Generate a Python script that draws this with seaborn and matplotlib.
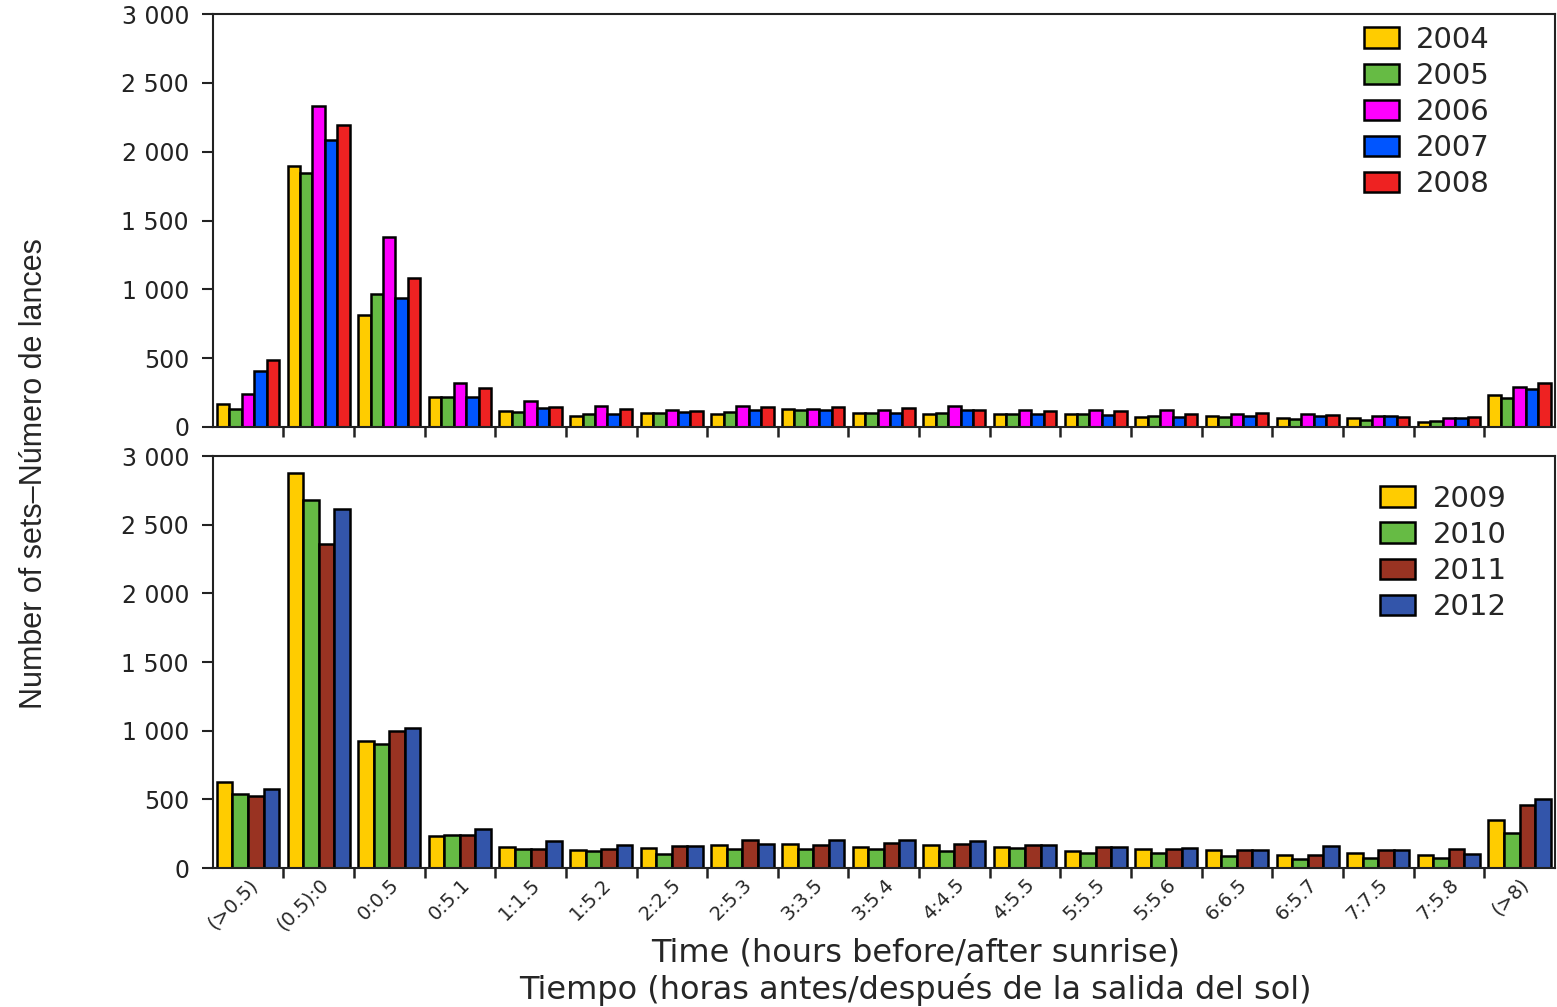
import pandas as pd
import numpy as np
import seaborn as sns
import matplotlib.pyplot as plt
from matplotlib.ticker import FixedLocator, FuncFormatter

# Time classes (hours before/after sunrise)
categories = ['(>0.5)', '(0.5):0', '0:0.5', '0:5.1', '1:1.5', '1:5.2', '2:2.5',
              '2:5.3', '3:3.5', '3:5.4', '4:4.5', '4:5.5', '5:5.5', '5:5.6',
              '6:6.5', '6:5.7', '7:7.5', '7:5.8', '(>8)']

# Upper panel: 2004-2008
top_years = ['2004', '2005', '2006', '2007', '2008']
sets_2004 = [170, 1893, 811, 218, 117, 78, 102, 97, 131, 105, 97, 92, 92, 73, 83, 68, 63, 39, 233]
sets_2005 = [133, 1845, 966, 218, 109, 97, 104, 109, 121, 105, 104, 97, 92, 83, 73, 58, 53, 44, 214]
sets_2006 = [243, 2335, 1379, 316, 187, 150, 121, 150, 131, 125, 153, 126, 126, 126, 97, 97, 83, 63, 291]
sets_2007 = [408, 2087, 939, 218, 141, 97, 112, 126, 121, 105, 126, 97, 87, 73, 83, 78, 83, 63, 277]
sets_2008 = [490, 2194, 1083, 284, 146, 131, 117, 146, 146, 141, 126, 117, 117, 92, 102, 87, 73, 73, 323]

# Lower panel: 2009-2012
bottom_years = ['2009', '2010', '2011', '2012']
sets_2009 = [626, 2881, 927, 231, 153, 133, 148, 165, 177, 155, 165, 153, 124, 141, 129, 92, 109, 92, 347]
sets_2010 = [541, 2682, 905, 238, 138, 124, 104, 138, 138, 140, 124, 148, 109, 109, 85, 68, 75, 70, 255]
sets_2011 = [522, 2357, 998, 238, 138, 138, 158, 206, 165, 180, 177, 165, 153, 141, 133, 97, 133, 138, 456]
sets_2012 = [578, 2617, 1022, 286, 197, 165, 163, 177, 206, 206, 194, 170, 153, 148, 133, 158, 129, 100, 505]

top_colors = ['#FFCC00', '#66BB44', '#FF00FF', '#0055FF', '#EE2222']
bottom_colors = ['#FFCC00', '#66BB44', '#993322', '#3355AA']


def long_form(years, series):
    rows = {'time': [], 'year': [], 'sets': []}
    for year, values in zip(years, series):
        rows['time'] += categories
        rows['year'] += [year] * len(values)
        rows['sets'] += list(values)
    return pd.DataFrame.from_dict(rows)


top_data = long_form(top_years, [sets_2004, sets_2005, sets_2006, sets_2007, sets_2008])
bottom_data = long_form(bottom_years, [sets_2009, sets_2010, sets_2011, sets_2012])

sns.set_style('ticks')
plt.rcParams['font.family'] = ['DejaVu Sans']

fig = plt.figure(figsize=(15.57, 10.07), dpi=100)
ax_top = fig.add_axes([0.1366, 0.576, 0.862, 0.410])
ax_bot = fig.add_axes([0.1366, 0.138, 0.862, 0.409])

thousands = FuncFormatter(lambda v, _: '{:,.0f}'.format(v).replace(',', ' '))
boundaries = [i + 0.5 for i in range(len(categories) - 1)]

panels = [(ax_top, top_data, top_years, top_colors, (0.9605, 1.0)),
          (ax_bot, bottom_data, bottom_years, bottom_colors, (0.973, 0.959))]

for ax, data, years, colors, anchor in panels:
    sns.barplot(ax=ax, data=data, x='time', y='sets', hue='year',
                order=categories, hue_order=years, palette=colors,
                width=0.88, edgecolor='black', linewidth=1.8, saturation=1)
    ax.set_xlim(-0.5, len(categories) - 0.5)
    ax.set_ylim(0, 3000)
    ax.set_yticks([0, 500, 1000, 1500, 2000, 2500, 3000])
    ax.yaxis.set_major_formatter(thousands)
    ax.tick_params(axis='y', labelsize=17, length=8, width=1.5, pad=9,
                   direction='out', colors='#222222')
    # ticks between groups, labels under groups
    ax.xaxis.set_major_locator(FixedLocator(boundaries))
    ax.xaxis.set_minor_locator(FixedLocator(range(len(categories))))
    ax.set_xticklabels([], minor=False)
    ax.tick_params(axis='x', which='major', length=7, width=1.8, direction='out',
                   colors='#222222')
    ax.tick_params(axis='x', which='minor', length=0)
    for side in ['left', 'right', 'top', 'bottom']:
        ax.spines[side].set_visible(True)
        ax.spines[side].set_linewidth(1.5)
        ax.spines[side].set_color('#222222')
    ax.set(xlabel='', ylabel='')

    handles, labels = ax.get_legend_handles_labels()
    ax.legend(handles, labels, loc='upper right', frameon=False, fontsize=21,
              handlelength=1.2, handleheight=0.7, handletextpad=0.6,
              labelspacing=0.28, borderaxespad=0, bbox_to_anchor=anchor)

ax_top.set_xticklabels([], minor=True)
ax_bot.set_xticklabels(categories, minor=True, rotation=45, ha='right',
                       rotation_mode='anchor', fontsize=14)
ax_bot.tick_params(axis='x', which='minor', pad=5)

fig.text(0.588, 0.0536, 'Time (hours before/after sunrise)', ha='center',
         va='center', fontsize=23)
fig.text(0.588, 0.0169, 'Tiempo (horas antes/después de la salida del sol)',
         ha='center', va='center', fontsize=23)
fig.text(0.022, 0.53, 'Number of sets\u2013Número de lances', rotation=90,
         ha='center', va='center', fontsize=22,
         family=['Liberation Sans Narrow', 'Liberation Sans', 'DejaVu Sans'])

plt.savefig('out.png')
